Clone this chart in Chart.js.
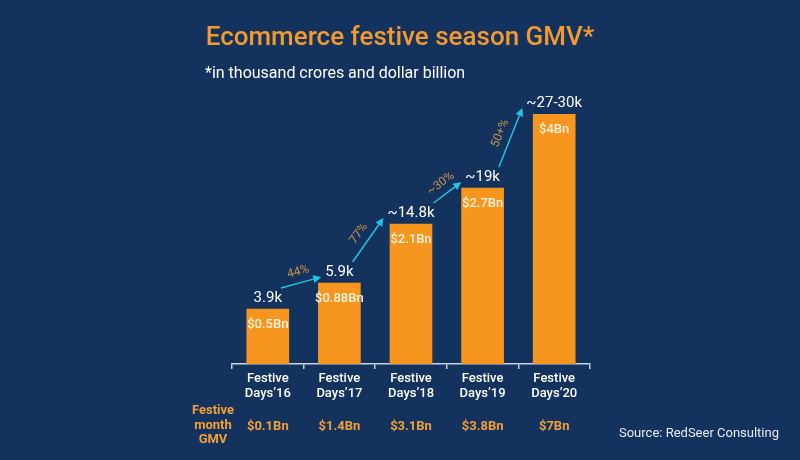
<!DOCTYPE html>
<html>
<head>
<meta charset="utf-8">
<title>Ecommerce festive season GMV</title>
<script src="https://cdn.jsdelivr.net/npm/chart.js@4.4.1/dist/chart.umd.min.js"></script>
<style>
  html, body { margin: 0; padding: 0; background: #13325d; }
  canvas { display: block; }
</style>
</head>
<body>
<canvas id="gmvChart" width="800" height="460"></canvas>
<script>
// ===============================
// DATA
// ===============================
const seasons = [
  ["Festive", "Days’16"],
  ["Festive", "Days’17"],
  ["Festive", "Days’18"],
  ["Festive", "Days’19"],
  ["Festive", "Days’20"]
];
// the source bars are not drawn to scale, so these are the visual heights
const barHeights = [55, 81, 140, 176, 250];
const gmvLabels = ["3.9k", "5.9k", "~14.8k", "~19k", "~27-30k"];
const usdLabels = ["$0.5Bn", "$0.88Bn", "$2.1Bn", "$2.7Bn", "$4Bn"];
const growthLabels = ["44%", "77%", "~30%", "50+%"];
const monthGmv = ["$0.1Bn", "$1.4Bn", "$3.1Bn", "$3.8Bn", "$7Bn"];

const BG = "#13325d";
const ORANGE = "#f7961f";
const CYAN = "#22c4e4";
const FONT = "Roboto, 'Noto Sans', sans-serif";

// ===============================
// ARROW HELPER
// ===============================
function drawArrow(ctx, sx, sy, ex, ey){
  const ang = Math.atan2(ey - sy, ex - sx);
  const head = 8;
  const lx = ex - Math.cos(ang) * head;
  const ly = ey - Math.sin(ang) * head;

  ctx.beginPath();
  ctx.moveTo(sx, sy);
  ctx.lineTo(lx, ly);
  ctx.stroke();

  ctx.beginPath();
  ctx.moveTo(ex, ey);
  ctx.lineTo(lx + Math.sin(ang) * 4, ly - Math.cos(ang) * 4);
  ctx.lineTo(lx - Math.sin(ang) * 4, ly + Math.cos(ang) * 4);
  ctx.closePath();
  ctx.fill();
}

// ===============================
// LABELS / ARROWS PLUGIN
// ===============================
const annotate = {
  id: "annotate",

  beforeDraw(chart){
    const ctx = chart.ctx;
    ctx.save();
    ctx.fillStyle = BG;
    ctx.fillRect(0, 0, chart.width, chart.height);
    ctx.restore();
  },

  afterDatasetsDraw(chart){
    const ctx = chart.ctx;
    const bars = chart.getDatasetMeta(0).data;
    const boxes = [];

    ctx.save();

    // value above each bar
    ctx.font = "400 15px " + FONT;
    ctx.fillStyle = "#ffffff";
    ctx.textAlign = "center";
    ctx.textBaseline = "alphabetic";
    bars.forEach((bar, i) => {
      const base = bar.y - 7;
      ctx.fillText(gmvLabels[i], bar.x, base);
      const w = ctx.measureText(gmvLabels[i]).width;
      boxes.push({ left: bar.x - w / 2, right: bar.x + w / 2, top: base - 11, base: base });
    });

    // dollar value inside each bar
    ctx.font = "500 13px " + FONT;
    ctx.fillStyle = "#fff4e2";
    ctx.textBaseline = "middle";
    bars.forEach((bar, i) => {
      ctx.fillText(usdLabels[i], bar.x, bar.y + 16);
    });

    // growth arrows between labels
    ctx.strokeStyle = CYAN;
    ctx.fillStyle = CYAN;
    ctx.lineWidth = 1.5;
    for(let i = 0; i < growthLabels.length; i++){
      const sx = boxes[i].right - 1;
      const sy = boxes[i].top - 3;
      const ex = boxes[i + 1].left - 4;
      const ey = boxes[i + 1].base + 1;
      drawArrow(ctx, sx, sy, ex, ey);

      const ang = Math.atan2(ey - sy, ex - sx);
      const mx = (sx + ex) / 2 + Math.sin(ang) * 11;
      const my = (sy + ey) / 2 - Math.cos(ang) * 11;
      ctx.save();
      ctx.translate(mx, my);
      ctx.rotate(ang);
      ctx.font = "400 12px " + FONT;
      ctx.fillStyle = "#c9954a";
      ctx.textAlign = "center";
      ctx.textBaseline = "middle";
      ctx.fillText(growthLabels[i], 0, 0);
      ctx.restore();
    }

    ctx.restore();
  },

  afterDraw(chart){
    const ctx = chart.ctx;
    const bars = chart.getDatasetMeta(0).data;
    ctx.save();

    // title + subtitle
    ctx.textBaseline = "alphabetic";
    ctx.textAlign = "center";
    ctx.font = "500 26px " + FONT;
    ctx.fillStyle = "#f39a2e";
    ctx.fillText("Ecommerce festive season GMV*", 400, 45);

    ctx.textAlign = "left";
    ctx.font = "400 16px " + FONT;
    ctx.fillStyle = "#ffffff";
    ctx.fillText("*in thousand crores and dollar billion", 205, 78);

    // festive month GMV row
    ctx.textAlign = "center";
    ctx.font = "bold 13px " + FONT;
    ctx.fillStyle = "#f3a034";
    bars.forEach((bar, i) => {
      ctx.fillText(monthGmv[i], bar.x, 430);
    });
    ["Festive", "month", "GMV"].forEach((t, i) => {
      ctx.fillText(t, 213, 414 + i * 14.5);
    });

    // source
    ctx.textAlign = "right";
    ctx.font = "400 13px " + FONT;
    ctx.fillStyle = "#e6edf5";
    ctx.fillText("Source: RedSeer Consulting", 779, 437);

    ctx.restore();
  }
};

// ===============================
// CHART
// ===============================
new Chart(document.getElementById("gmvChart"), {
  type: "bar",
  data: {
    labels: seasons,
    datasets: [{
      data: barHeights,
      backgroundColor: ORANGE,
      borderWidth: 0,
      barThickness: 42
    }]
  },
  options: {
    responsive: false,
    animation: false,
    layout: {
      padding: { left: 232, right: 210, top: 114, bottom: 0 }
    },
    plugins: {
      legend: { display: false },
      title: { display: false },
      tooltip: { enabled: false }
    },
    scales: {
      x: {
        afterFit: (scale) => { scale.height = 96; },
        grid: {
          display: true,
          drawOnChartArea: false,
          drawTicks: true,
          tickLength: 5,
          color: "#c9d3df",
          lineWidth: 1.5
        },
        border: { display: true, color: "#c9d3df", width: 1.5 },
        ticks: {
          color: "#ffffff",
          padding: 3,
          font: { family: FONT, size: 13, weight: "500", lineHeight: 1.1 }
        }
      },
      y: {
        display: false,
        min: 0,
        max: 250
      }
    }
  },
  plugins: [annotate]
});
</script>
</body>
</html>
